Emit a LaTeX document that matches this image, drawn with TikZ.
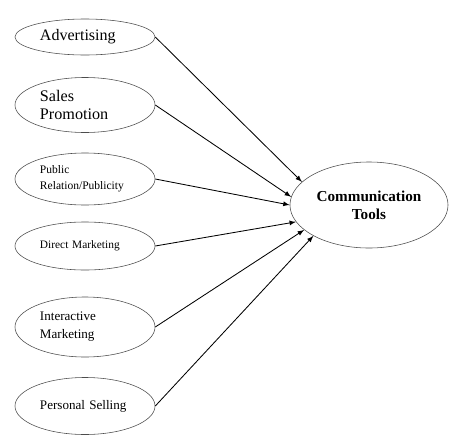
\documentclass[tikz,border=0pt]{standalone}
\usepackage{fontspec}
\setmainfont{Liberation Serif}
\usetikzlibrary{arrows,positioning,shapes}

\begin{document}
\begin{tikzpicture}[x=0.025cm,y=-0.025cm,
    tool/.style={ellipse,draw=black!70,inner sep=0pt,minimum width=3.5cm,text width=2.25cm,align=left},
    hub/.style={ellipse,draw=black!70,inner sep=0pt,minimum width=3.95cm,minimum height=2.15cm,align=center,font=\fontsize{10.8}{12.8}\selectfont\bfseries}]
    \useasboundingbox (0,0) rectangle (449,436);

    \node[tool,minimum height=0.9cm,font=\fontsize{11.4}{13.5}\selectfont] (tool1) at (85,37) {Advertising};
    \node[tool,minimum height=1.375cm,font=\fontsize{11.5}{12.8}\selectfont] (tool2) at (85,105) {Sales\\Promotion};
    \node[tool,minimum height=1.3cm,font=\fontsize{8.2}{11.4}\selectfont] (tool3) at (85,179) {Public\\Relation/Publicity};
    \node[tool,minimum height=1.2cm,font=\fontsize{8.1}{10}\selectfont] (tool4) at (85,246) {Direct Marketing};
    \node[tool,minimum height=1.5cm,font=\fontsize{9.3}{12.8}\selectfont] (tool5) at (85,327) {Interactive\\Marketing};
    \node[tool,minimum height=1.425cm,font=\fontsize{9.3}{11}\selectfont] (tool6) at (85,406) {Personal Selling};

    \node[hub] (comm) at (369,205) {Communication\\Tools};

    \foreach \from/\ang in {tool1/161,tool2/174,tool3/180,tool4/193,tool5/201,tool6/209}
        \draw[-latex,line width=0.6pt] (\from.east) -- (comm.\ang);
\end{tikzpicture}
\end{document}
